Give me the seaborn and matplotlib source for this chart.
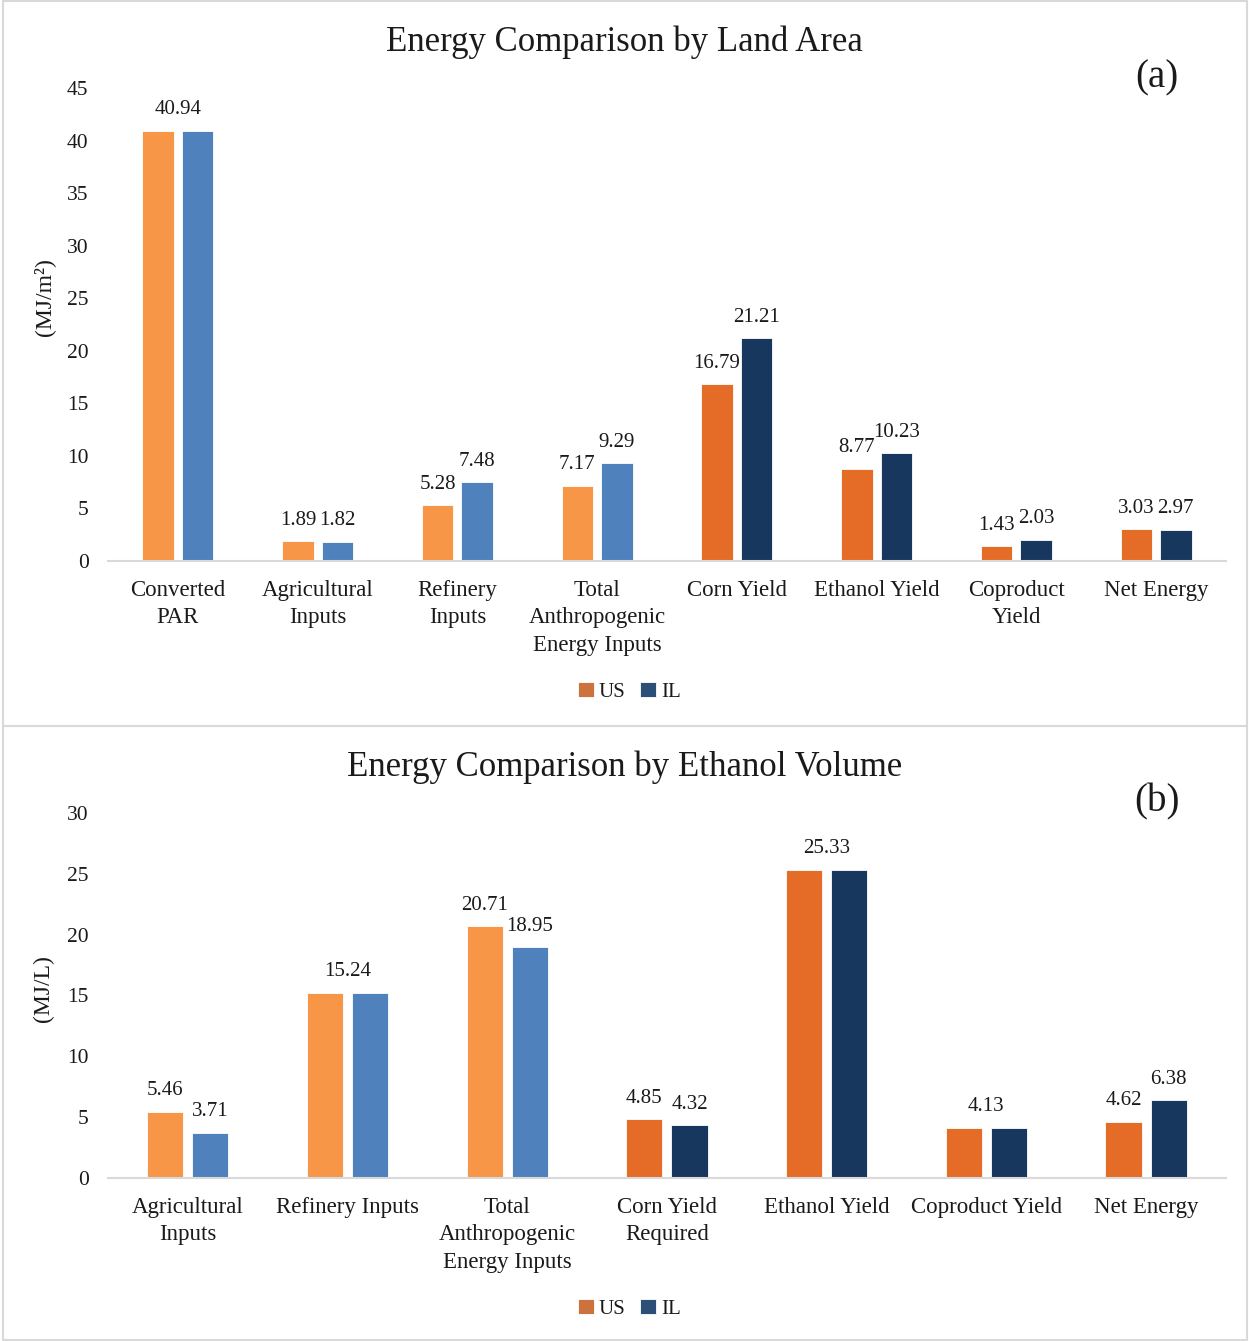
import pandas as pd
import numpy as np
import matplotlib
matplotlib.use("Agg")
import matplotlib.pyplot as plt
from matplotlib.lines import Line2D
import seaborn as sns

# Données
cats_a = ["Converted\nPAR", "Agricultural\nInputs", "Refinery\nInputs",
          "Total\nAnthropogenic\nEnergy Inputs", "Corn Yield", "Ethanol Yield",
          "Coproduct\nYield", "Net Energy"]
us_a = [40.94, 1.89, 5.28, 7.17, 16.79, 8.77, 1.43, 3.03]
il_a = [40.94, 1.82, 7.48, 9.29, 21.21, 10.23, 2.03, 2.97]

cats_b = ["Agricultural\nInputs", "Refinery Inputs",
          "Total\nAnthropogenic\nEnergy Inputs", "Corn Yield\nRequired",
          "Ethanol Yield", "Coproduct Yield", "Net Energy"]
us_b = [5.46, 15.24, 20.71, 4.85, 25.33, 4.13, 4.62]
il_b = [3.71, 15.24, 18.95, 4.32, 25.33, 4.13, 6.38]

# nombre de catégories "inputs" (couleurs claires)
n_light_a = 4
n_light_b = 3

# Couleurs
light = {"US": "#F79646", "IL": "#4F81BD"}
dark = {"US": "#E46C26", "IL": "#17375E"}
legend_cols = {"US": "#E46C26", "IL": "#1F4E85"}
txt = "#1a1a1a"

sns.set_style("white")
plt.rcParams["font.family"] = ["Liberation Serif", "DejaVu Serif"]

fig = plt.figure(figsize=(12.49, 13.41), dpi=100)


def panel(rect, cats, us, il, n_light, ymax, ylabel, title, tag,
          title_y, tag_y, ylab_y, leg_y):
    ax = fig.add_axes(rect)
    df = pd.DataFrame({
        "cat": cats * 2,
        "val": us + il,
        "region": ["US"] * len(cats) + ["IL"] * len(cats),
    })
    sns.barplot(data=df, x="cat", y="val", hue="region", order=cats,
                hue_order=["US", "IL"], palette=legend_cols, width=0.565,
                gap=0.2, ax=ax, edgecolor="white", linewidth=0.6)

    # on recolore les barres
    for k, reg in enumerate(["US", "IL"]):
        for i, bar in enumerate(ax.containers[k]):
            bar.set_facecolor(light[reg] if i < n_light else dark[reg])

    # étiquettes de valeurs
    for i in range(len(cats)):
        b_us = ax.containers[0][i]
        b_il = ax.containers[1][i]
        if us[i] == il[i]:
            ax.annotate(f"{us[i]:.2f}", (i, us[i]), xytext=(0, 15),
                        textcoords="offset points", ha="center", va="center",
                        fontsize=15, color=txt)
        else:
            for b, v in ((b_us, us[i]), (b_il, il[i])):
                ax.annotate(f"{v:.2f}", (b.get_x() + b.get_width() / 2, v),
                            xytext=(0, 15), textcoords="offset points",
                            ha="center", va="center", fontsize=15, color=txt)

    ax.set_ylim(0, ymax)
    ax.set_yticks(np.arange(0, ymax + 1, 5))
    ax.set_xticks(range(len(cats)))
    ax.set_xticklabels(cats, linespacing=1.38)
    ax.set_xlabel("")
    ax.set_ylabel("")
    for s in ["top", "right", "left"]:
        ax.spines[s].set_visible(False)
    ax.spines["bottom"].set_color("#D9D9D9")
    ax.spines["bottom"].set_linewidth(1.5)
    ax.tick_params(axis="both", length=0, colors=txt)
    ax.tick_params(axis="y", labelsize=15.5, pad=14)
    ax.tick_params(axis="x", labelsize=16.5, pad=14)

    h, l = ax.get_legend_handles_labels()
    ax.get_legend().remove()
    fig.legend(h, l, loc="center", bbox_to_anchor=(0.504, leg_y), ncol=2,
               frameon=False, fontsize=15, handlelength=0.75,
               handleheight=0.75, handletextpad=0.25, columnspacing=0.7,
               labelcolor=txt)

    fig.text(0.5, title_y, title, ha="center", va="center", fontsize=25,
             color=txt)
    fig.text(0.926, tag_y, tag, ha="center", va="center", fontsize=28,
             color=txt)
    fig.text(0.035, ylab_y, ylabel, ha="center", va="center", rotation=90,
             fontsize=17, color=txt)
    return ax


panel([0.0865, 0.5817, 0.895, 0.3527], cats_a, us_a, il_a, n_light_a, 45,
      "(MJ/m²)", "Energy Comparison by Land Area", "(a)",
      0.9687, 0.942, 0.7785, 0.484)
panel([0.0865, 0.1216, 0.895, 0.2722], cats_b, us_b, il_b, n_light_b, 30,
      "(MJ/L)", "Energy Comparison by Ethanol Volume", "(b)",
      0.428, 0.402, 0.263, 0.0239)

# cadres gris clair autour des deux panneaux
W, H = 1249, 1341
border = "#D9D9D9"
for (x0, y0, x1, y1) in [(3, 1, 1247, 1), (3, 1, 3, 1341), (1247, 1, 1247, 1341),
                         (3, 726, 1247, 726), (3, 1340, 1247, 1340)]:
    fig.add_artist(Line2D([x0 / W, x1 / W], [1 - y0 / H, 1 - y1 / H],
                          transform=fig.transFigure, color=border, lw=1.5))

fig.savefig("out.png", dpi=100, facecolor="white")
